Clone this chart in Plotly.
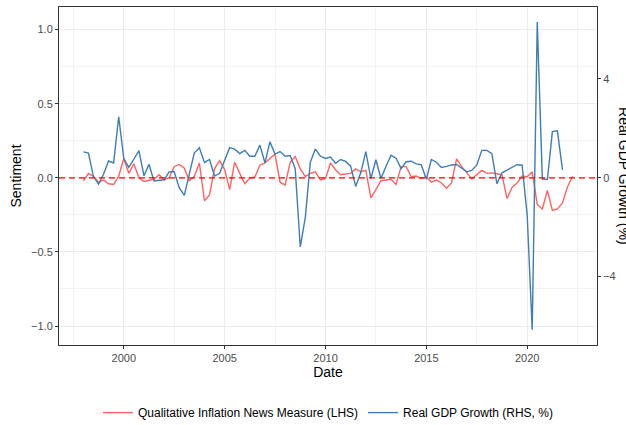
import pandas as pd
import plotly.graph_objects as go

# ---------------- data (quarterly) ----------------
gdp_start = "1998-01-01"
gdp_growth = [
    1.05, 1.00, 0.05, -0.26,    # 1998
    0.15, 0.68, 0.60, 2.47,     # 1999
    0.78, 0.42, 0.75, 1.10,     # 2000
    0.08, 0.55, -0.13, -0.10,   # 2001
    -0.08, 0.24, 0.25, -0.40,   # 2002
    -0.71, 0.15, 1.00, 1.21,    # 2003
    0.62, 0.74, 0.07, 0.18,     # 2004
    0.70, 1.22, 1.16, 0.98,     # 2005
    1.11, 0.87, 0.87, 1.32,     # 2006
    0.60, 1.46, 0.96, 1.06,     # 2007
    0.87, 0.90, 0.37, -2.80,    # 2008
    -1.59, 0.63, 1.16, 0.87,    # 2009
    0.78, 0.84, 0.59, 0.74,     # 2010
    0.66, 0.47, -0.35, 0.20,    # 2011
    1.06, -0.03, 0.73, -0.03,   # 2012
    0.47, 0.91, 0.79, 0.37,     # 2013
    0.65, 0.67, 0.56, 0.52,     # 2014
    -0.06, 0.74, 0.63, 0.42,    # 2015
    0.46, 0.52, 0.54, 0.39,     # 2016
    0.24, 0.30, 0.51, 1.11,     # 2017
    1.11, 0.98, -0.24, 0.20,    # 2018
    0.30, 0.40, 0.53, 0.51,     # 2019
    -1.52, -6.15, 6.30, -0.05,  # 2020
    -0.07, 1.87, 1.90, 0.32,    # 2021
]

news_start = "1998-01-01"
inflation_news = [
    -0.020, 0.030, 0.010, -0.030,   # 1998
    -0.015, -0.040, -0.045, 0.010,  # 1999
    0.130, 0.030, 0.095, 0.000,     # 2000
    -0.025, -0.020, -0.010, 0.020,  # 2001
    -0.015, 0.000, 0.075, 0.090,    # 2002
    0.065, -0.020, 0.010, 0.100,    # 2003
    -0.155, -0.115, 0.060, 0.115,   # 2004
    0.055, -0.080, 0.105, 0.030,    # 2005
    -0.040, 0.000, 0.005, 0.085,    # 2006
    0.100, 0.130, 0.160, -0.030,    # 2007
    -0.050, 0.105, 0.143, 0.060,    # 2008
    0.008, 0.030, 0.040, -0.015,    # 2009
    -0.005, 0.100, 0.054, 0.020,    # 2010
    0.027, 0.030, 0.060, 0.040,     # 2011
    0.050, -0.135, -0.080, -0.020,  # 2012
    -0.015, -0.010, -0.045, 0.075,  # 2013
    0.075, 0.007, 0.012, -0.005,    # 2014
    0.007, -0.030, -0.015, -0.035,  # 2015
    -0.070, -0.035, 0.127, 0.075,   # 2016
    0.035, -0.007, 0.020, 0.050,    # 2017
    0.030, 0.033, 0.027, 0.020,     # 2018
    -0.140, -0.065, -0.036, 0.012,  # 2019
    0.007, 0.040, -0.180, -0.210,   # 2020
    -0.085, -0.220, -0.210, -0.170, # 2021
    -0.060, 0.010,                  # 2022
]

gdp_dates = pd.date_range(gdp_start, periods=len(gdp_growth), freq="QS")
news_dates = pd.date_range(news_start, periods=len(inflation_news), freq="QS")

x_tick_years = [2000, 2005, 2010, 2015, 2020]
x_minor_dates = ["1997-07-02", "2002-07-02", "2007-07-02", "2012-07-02", "2017-07-02", "2022-07-02"]
y_left_ticks = [-1.0, -0.5, 0.0, 0.5, 1.0]
y_left_minor = [-0.75, -0.25, 0.25, 0.75]
y_right_ticks = [-4, 0, 4]
sec_scale = 6.0

RED = "#FF6262"
BLUE = "#3F7DB5"
FONT = "Liberation Sans, Arial, sans-serif"
GRID = "#EBEBEB"
AX = "#333333"
TICKTXT = "#4D4D4D"

y_range = [-1.128, 1.152]

fig = go.Figure()
fig.add_trace(go.Scatter(
    x=news_dates, y=inflation_news, mode="lines",
    line=dict(color=RED, width=1.4),
    name="Qualitative Inflation News Measure (LHS)",
))
fig.add_trace(go.Scatter(
    x=gdp_dates, y=gdp_growth, mode="lines", yaxis="y2",
    line=dict(color=BLUE, width=1.4),
    name="Real GDP Growth (RHS, %)",
))

fig.update_layout(
    width=626, height=425,
    margin=dict(l=59, r=29, t=7, b=80, autoexpand=False),
    paper_bgcolor="white", plot_bgcolor="white",
    font=dict(family=FONT, color="black"),
    showlegend=True,
    legend=dict(
        orientation="h", x=0.5, xanchor="center", y=-0.2, yanchor="middle",
        font=dict(size=12, color="black"), bgcolor="rgba(0,0,0,0)",
        tracegroupgap=0, itemwidth=30,
    ),
    xaxis=dict(
        type="date", automargin=False,
        range=["1996-10-15", "2023-06-18"],
        tickvals=[f"{y}-01-01" for y in x_tick_years],
        ticktext=[str(y) for y in x_tick_years],
        showgrid=True, gridcolor=GRID, gridwidth=1,
        minor=dict(tickmode="array", tickvals=x_minor_dates, showgrid=True,
                   gridcolor=GRID, gridwidth=0.6, ticks=""),
        zeroline=False,
        showline=True, mirror=True, linecolor=AX, linewidth=1,
        ticks="outside", ticklen=3, tickcolor=AX, tickwidth=1,
        tickfont=dict(size=11, color=TICKTXT, family=FONT),
        title=dict(text="Date", font=dict(size=14, color="black", family=FONT), standoff=3),
    ),
    yaxis=dict(
        range=y_range, automargin=False,
        tickvals=y_left_ticks, tickformat=".1f",
        showgrid=True, gridcolor=GRID, gridwidth=1,
        minor=dict(tickmode="array", tickvals=y_left_minor, showgrid=True,
                   gridcolor=GRID, gridwidth=0.6, ticks=""),
        zeroline=False,
        showline=True, mirror=True, linecolor=AX, linewidth=1,
        ticks="outside", ticklen=3, tickcolor=AX, tickwidth=1,
        tickfont=dict(size=11, color=TICKTXT, family=FONT),
        title=dict(text="Sentiment", font=dict(size=14, color="black", family=FONT), standoff=6),
    ),
    yaxis2=dict(
        overlaying="y", side="right", automargin=False,
        range=[y_range[0] * sec_scale, y_range[1] * sec_scale],
        tickvals=y_right_ticks, tickformat="d",
        showgrid=False, zeroline=False,
        showline=True, linecolor=AX, linewidth=1,
        ticks="outside", ticklen=3, tickcolor=AX, tickwidth=1,
        tickfont=dict(size=11, color=TICKTXT, family=FONT),
    ),
    shapes=[dict(
        type="line", xref="paper", x0=0, x1=1, yref="y", y0=0, y1=0,
        line=dict(color="#FF0000", width=1.2, dash="6px,4px"), layer="above",
    )],
    annotations=[dict(
        text="Real GDP Growth (%)", xref="paper", yref="paper",
        x=1.050, y=0.5, xanchor="center", yanchor="middle",
        textangle=90, showarrow=False,
        font=dict(size=14, color="black", family=FONT),
    )],
)

fig.write_html(
    "out.html",
    config={"displayModeBar": False, "staticPlot": True},
    post_script="document.body.style.margin='0px';document.body.style.overflow='hidden';",
)
